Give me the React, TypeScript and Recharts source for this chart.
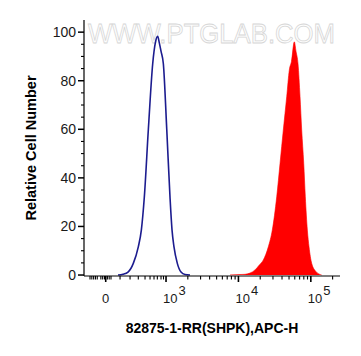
import React from 'react';
import { ComposedChart, Line, Area, XAxis, YAxis } from 'recharts';

// x values are in display units of the logicle axis (decade position: 3 = 10^3, 4 = 10^4, ...)
const blueX = [2.337, 2.406, 2.475, 2.548, 2.617, 2.659, 2.700, 2.756, 2.816, 2.855, 2.885, 2.908, 2.932, 2.963, 3.010, 3.055, 3.083, 3.110, 3.156, 3.207, 3.262, 3.331];
const blueY = [0, 0.3, 1.2, 4.8, 11.6, 18.5, 32, 60, 87, 96, 98.3, 95.5, 92, 87, 60, 32, 18.5, 11.6, 4.8, 1.2, 0.2, 0];

const redX = [3.884, 4.022, 4.091, 4.160, 4.229, 4.285, 4.344, 4.413, 4.468, 4.529, 4.575, 4.620, 4.667, 4.703, 4.733, 4.772, 4.796, 4.823, 4.851, 4.874, 4.902, 4.924, 4.952, 4.975, 5.012, 5.072, 5.150];
const redY = [0.05, 0.2, 0.3, 0.8, 2.1, 4, 6.2, 11.6, 18.5, 32.2, 46, 59.7, 73.4, 84.4, 88, 96, 92, 87, 73.4, 59.7, 46, 32.2, 18.5, 11.6, 4.8, 1.4, 0];

const xDomain = [1.867, 5.403];
const yDomain = [-0.4, 105];

const xMajorTicks = [2.167, 3, 4, 5];
const xMajorExponents = ['', '3', '4', '5'];
const xLinearMinorTicks = [1.95, 1.975, 2.0, 2.025, 2.05, 2.1, 2.125, 2.15, 2.19, 2.215, 2.24, 2.365, 2.503, 2.617, 2.710, 2.779, 2.834, 2.880, 2.931, 2.965];
const logMultipliers = [2, 3, 4, 5, 6, 7, 8, 9];
const xLogMinorTicks = [3, 4, 5]
  .flatMap((d) => logMultipliers.map((m) => d + Math.log10(m)))
  .filter((t) => t < xDomain[1]);
const xAllTicks = [...xLinearMinorTicks, ...xMajorTicks, ...xLogMinorTicks].sort((a, b) => a - b);

const yTicks = [0, 5, 10, 15, 20, 25, 30, 35, 40, 45, 50, 55, 60, 65, 70, 75, 80, 85, 90, 95, 100];

const xTitle = '82875-1-RR(SHPK),APC-H';
const yTitle = 'Relative Cell Number';
const watermark = 'WWW.PTGLAB.COM';

const blueData = blueX.map((t, i) => ({ t, v: blueY[i] }));
const redData = redX.map((t, i) => ({ t, v: redY[i] }));

const FONT = 'Arial, "Liberation Sans", sans-serif';

const XTick = (props: any) => {
  const { x, y, payload } = props;
  const v = payload.value;
  const idx = xMajorTicks.findIndex((m) => Math.abs(m - v) < 1e-6);
  const major = idx >= 0;
  return (
    <g>
      <line x1={x} x2={x} y1={y} y2={y + (major ? 6 : 3.5)} stroke="#000" strokeWidth={major ? 1.6 : 1.1} />
      {major && idx === 0 && (
        <text x={x} y={y + 27} textAnchor="middle" fontSize={13} fontFamily={FONT} fill="#1a1a1a">
          0
        </text>
      )}
      {major && idx > 0 && (
        <text x={x - 3} y={y + 27} textAnchor="start" fontSize={13} fontFamily={FONT} fill="#1a1a1a">
          10
          <tspan dx={1} dy={-8}>
            {xMajorExponents[idx]}
          </tspan>
        </text>
      )}
    </g>
  );
};

const YTick = (props: any) => {
  const { x, y, payload } = props;
  const v = payload.value;
  const major = v % 20 === 0;
  return (
    <g>
      <line x1={x - (major ? 6 : 3)} x2={x} y1={y} y2={y} stroke="#000" strokeWidth={major ? 1.5 : 1.1} />
      {major && (
        <text x={x - 8} y={y} dy="0.36em" textAnchor="end" fontSize={14} fontFamily={FONT} fill="#1a1a1a">
          {v}
        </text>
      )}
    </g>
  );
};

export default function App() {
  return (
    <div style={{ position: 'relative', width: 353, height: 348 }}>
      <svg width={353} height={348} style={{ position: 'absolute', left: 0, top: 0 }}>
        <text
          x={80}
          y={35}
          fontSize={27}
          fontFamily={FONT}
          fill="#fdfdfd"
          stroke="#d6d6d6"
          strokeWidth={0.8}
          textLength={247}
          lengthAdjust="spacingAndGlyphs"
        >
          {watermark}
        </text>
      </svg>
      <div style={{ position: 'absolute', left: 0, top: 0 }}>
        <ComposedChart
          width={353}
          height={348}
          margin={{ top: 12, right: 21, left: 16, bottom: 20 }}
          style={{ fontFamily: FONT }}
        >
          <XAxis
            dataKey="t"
            type="number"
            domain={xDomain}
            allowDataOverflow
            ticks={xAllTicks}
            interval={0}
            tick={<XTick />}
            tickLine={false}
            tickSize={0}
            tickMargin={0}
            height={60}
            axisLine={{ stroke: '#000', strokeWidth: 1.2 }}
            label={{
              value: xTitle,
              position: 'insideBottom',
              offset: 3,
              style: { fontSize: 14, fontWeight: 'bold', fill: '#000', fontFamily: FONT },
            }}
          />
          <XAxis
            xAxisId="top"
            orientation="top"
            type="number"
            domain={xDomain}
            allowDataOverflow
            height={0}
            tick={false}
            tickLine={false}
            axisLine={{ stroke: '#000', strokeWidth: 1.2 }}
          />
          <YAxis
            type="number"
            domain={yDomain}
            allowDataOverflow
            ticks={yTicks}
            interval={0}
            tick={<YTick />}
            tickLine={false}
            tickSize={0}
            tickMargin={0}
            width={60}
            axisLine={{ stroke: '#000', strokeWidth: 1.2 }}
            label={{
              value: yTitle,
              angle: -90,
              position: 'insideLeft',
              offset: 3,
              dx: 4,
              style: { fontSize: 14.5, fontWeight: 'bold', fill: '#000', fontFamily: FONT, textAnchor: 'middle' },
            }}
          />
          <YAxis
            yAxisId="right"
            orientation="right"
            type="number"
            domain={yDomain}
            width={0}
            tick={false}
            tickLine={false}
            axisLine={{ stroke: '#000', strokeWidth: 1.2 }}
          />
          <Area
            data={redData}
            dataKey="v"
            type="monotone"
            fill="#ff0000"
            fillOpacity={1}
            stroke="#ff0000"
            strokeWidth={0.6}
            baseValue={0}
            isAnimationActive={false}
            dot={false}
            activeDot={false}
          />
          <Line
            data={blueData}
            dataKey="v"
            type="monotone"
            stroke="#1c1c8f"
            strokeWidth={1.6}
            dot={false}
            activeDot={false}
            isAnimationActive={false}
          />
        </ComposedChart>
      </div>
    </div>
  );
}
